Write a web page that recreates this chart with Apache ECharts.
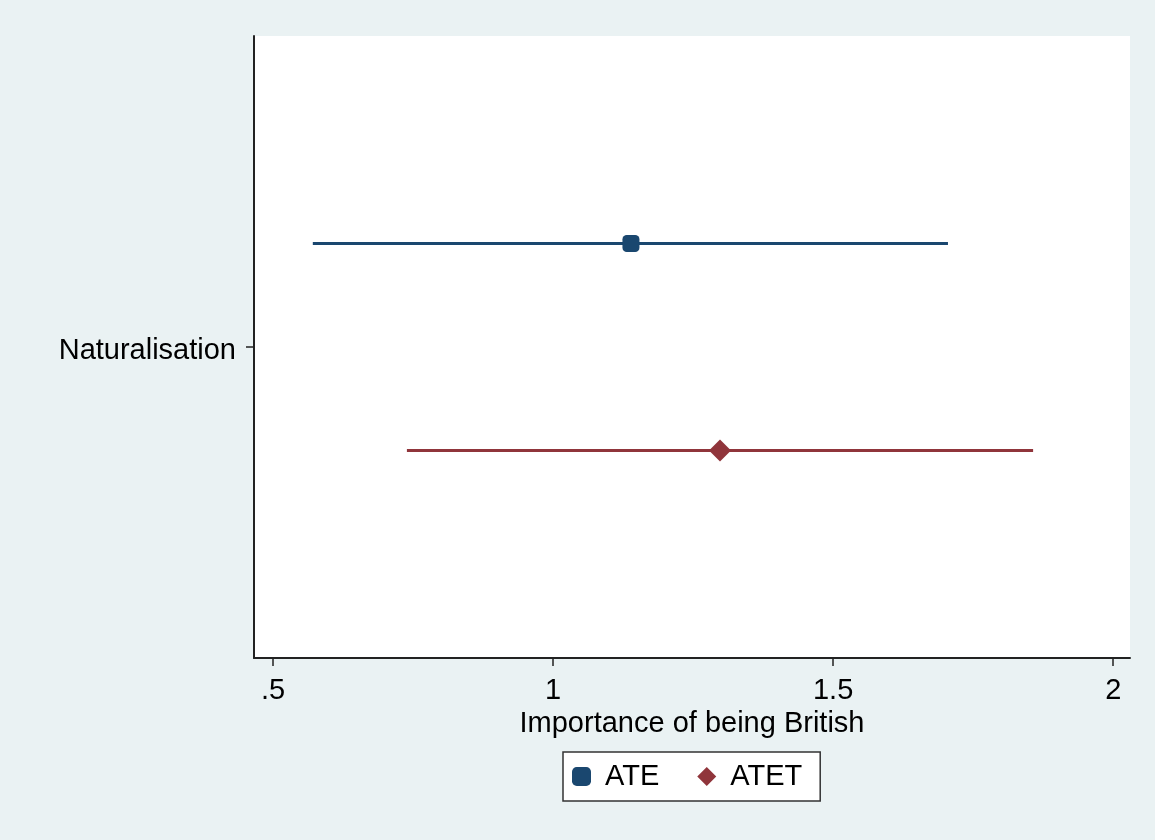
<!DOCTYPE html>
<html>
<head>
<meta charset="utf-8">
<title>Importance of being British</title>
<script src="https://cdn.jsdelivr.net/npm/echarts@6/dist/echarts.min.js"></script>
<style>
  html, body { margin: 0; padding: 0; background: #EAF2F3; }
  #chart { width: 1155px; height: 840px; }
</style>
</head>
<body>
<div id="chart"></div>
<script>
// Coefficient plot: point estimates with confidence intervals
const categories = ['Naturalisation'];
const models = ['ATE', 'ATET'];
const estimates = [1.139, 1.298];
const ciLower = [0.571, 0.739];
const ciUpper = [1.705, 1.857];
const xTickValues = [0.5, 1, 1.5, 2];
const xTickLabels = ['.5', '1', '1.5', '2'];
const axisTitle = 'Importance of being British';

// vertical placement of each model around its category row
const modelOffsets = [0.333, -0.333];
const modelColors = ['#1A476F', '#90353B'];
const modelSymbols = ['roundRect', 'diamond'];
const modelSymbolSizes = [17, 22];

const FONT = 'Liberation Sans, Arial, sans-serif';
const catY = 1;

const series = [];
models.forEach((m, i) => {
  const y = catY + modelOffsets[i];
  series.push({
    name: m + ' CI',
    type: 'line',
    data: [[ciLower[i], y], [ciUpper[i], y]],
    showSymbol: false,
    silent: true,
    lineStyle: { color: modelColors[i], width: 3 },
    z: 2
  });
});
models.forEach((m, i) => {
  const y = catY + modelOffsets[i];
  series.push({
    name: m,
    type: 'scatter',
    data: [[estimates[i], y]],
    symbol: modelSymbols[i],
    symbolSize: modelSymbolSizes[i],
    itemStyle: { color: modelColors[i], opacity: 1 },
    z: 3
  });
});

const chart = echarts.init(document.getElementById('chart'), null, { renderer: 'canvas' });
chart.setOption({
  backgroundColor: '#EAF2F3',
  animation: false,
  grid: {
    left: 254, top: 36, right: 25, bottom: 182,
    show: true, backgroundColor: '#FFFFFF', borderWidth: 0
  },
  xAxis: {
    type: 'value',
    min: 0.466,
    max: 2.030,
    name: axisTitle,
    nameLocation: 'middle',
    nameGap: 35,
    nameTextStyle: { fontFamily: FONT, fontSize: 29, color: '#000' },
    axisLine: { show: true, onZero: false, lineStyle: { color: '#222', width: 2 } },
    axisTick: { show: true, length: 8, customValues: xTickValues, lineStyle: { color: '#222', width: 1.5 } },
    axisLabel: {
      show: true,
      customValues: xTickValues,
      margin: 18,
      fontFamily: FONT, fontSize: 29, color: '#000',
      formatter: v => xTickLabels[xTickValues.indexOf(v)]
    },
    splitLine: { show: false }
  },
  yAxis: {
    type: 'value',
    min: 0,
    max: 2,
    axisLine: { show: true, onZero: false, lineStyle: { color: '#222', width: 2 } },
    axisTick: { show: true, length: 8, customValues: [catY], lineStyle: { color: '#222', width: 1.5 } },
    axisLabel: {
      show: true,
      customValues: [catY],
      margin: 18,
      fontFamily: FONT, fontSize: 29, color: '#000',
      formatter: () => '{cat|' + categories[0] + '}',
      rich: {
        cat: { fontFamily: FONT, fontSize: 29, color: '#000', padding: [8, 0, 0, 0] }
      }
    },
    splitLine: { show: false }
  },
  legend: {
    data: models.map((m, i) => ({ name: m, icon: modelSymbols[i] })),
    left: 563,
    top: 752,
    orient: 'horizontal',
    backgroundColor: '#FFFFFF',
    borderColor: '#333',
    borderWidth: 1.5,
    borderRadius: 0,
    padding: [10, 18, 10, 9],
    itemWidth: 19,
    itemHeight: 19,
    itemGap: 38,
    selectedMode: false,
    textStyle: { fontFamily: FONT, fontSize: 29, color: '#000', padding: [0, 0, 0, 9] }
  },
  series: series
});
</script>
</body>
</html>
